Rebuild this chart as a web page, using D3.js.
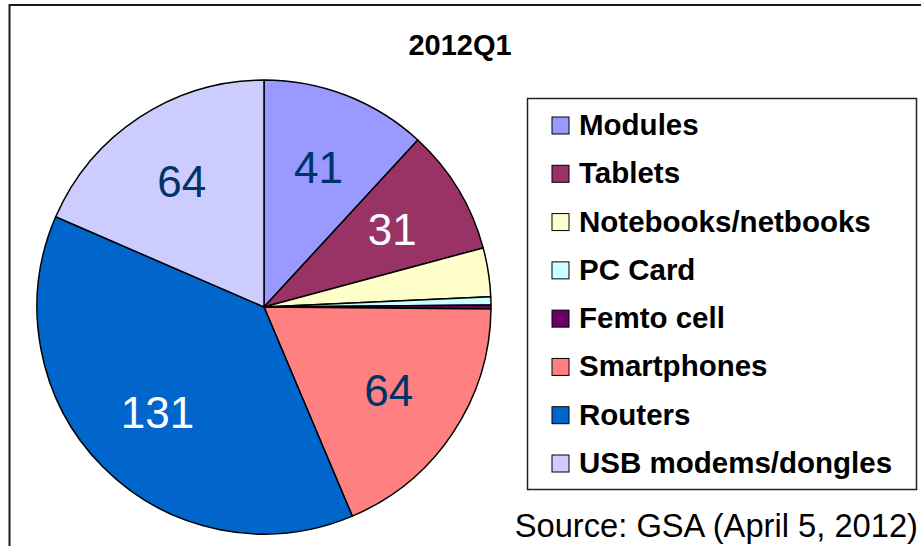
<!DOCTYPE html>
<html>
<head>
<meta charset="utf-8">
<script src="https://cdn.jsdelivr.net/npm/d3@7"></script>
<style>
  html, body { margin: 0; padding: 0; background: #fff; }
  svg { display: block; }
  text { font-family: "Liberation Sans", Arial, sans-serif; }
</style>
</head>
<body>
<svg id="chart" width="921" height="546"></svg>
<script>
const title = "2012Q1";
const source = "Source: GSA (April 5, 2012)";
const categories = ["Modules", "Tablets", "Notebooks/netbooks", "PC Card", "Femto cell", "Smartphones", "Routers", "USB modems/dongles"];
const values = [41, 31, 12, 2, 1, 64, 131, 64];
const colors = ["#9999FF", "#993366", "#FFFFCC", "#CCFFFF", "#660066", "#FF8080", "#0066CC", "#CCCCFF"];
const labelColors = ["#003366", "#FFFFFF", "#003366", "#003366", "#003366", "#003366", "#FFFFFF", "#003366"];

const W = 921, H = 546;
const svg = d3.select("#chart");

// outer frame (extends past right/bottom edges)
svg.append("path")
  .attr("d", `M9.5,${H + 5} L9.5,5 L${W + 5},5`)
  .attr("fill", "none").attr("stroke", "#1a1a1a").attr("stroke-width", 2);

// title
svg.append("text")
  .attr("x", 460).attr("y", 55)
  .attr("text-anchor", "middle")
  .attr("font-size", 29).attr("font-weight", "bold")
  .text(title);

// pie
const cx = 264, cy = 307, R = 227;
const data = categories.map((c, i) => ({ name: c, value: values[i], color: colors[i], lc: labelColors[i] }));
const pie = d3.pie().sort(null).value(d => d.value);
const arcs = pie(data);
const arc = d3.arc().innerRadius(0).outerRadius(R);
const labelArc = d3.arc().innerRadius(150).outerRadius(150);

const g = svg.append("g").attr("transform", `translate(${cx},${cy})`);
g.selectAll("path.slice").data(arcs).join("path")
  .attr("class", "slice")
  .attr("d", arc)
  .attr("fill", d => d.data.color)
  .attr("stroke", "#000").attr("stroke-width", 1.5).attr("stroke-linejoin", "round");

g.selectAll("text.lbl").data(arcs.filter(d => d.data.value >= 20)).join("text")
  .attr("class", "lbl")
  .attr("transform", d => `translate(${labelArc.centroid(d)})`)
  .attr("text-anchor", "middle")
  .attr("dominant-baseline", "central")
  .attr("font-size", 44)
  .attr("fill", d => d.data.lc)
  .text(d => d.data.value);

// legend
const lg = svg.append("g");
lg.append("rect")
  .attr("x", 527.5).attr("y", 98.5).attr("width", 389).attr("height", 391)
  .attr("fill", "#fff").attr("stroke", "#222").attr("stroke-width", 1.5);

const rowY = d3.scalePoint().domain(categories).range([135, 473]);
const items = lg.selectAll("g.item").data(data).join("g").attr("class", "item")
  .attr("transform", d => `translate(0,${rowY(d.name)})`);
items.append("rect")
  .attr("x", 552).attr("y", -18).attr("width", 17).attr("height", 17)
  .attr("fill", d => d.color).attr("stroke", "#000").attr("stroke-width", 1);
items.append("text")
  .attr("x", 579).attr("y", 0)
  .attr("font-size", 29.5).attr("font-weight", "bold")
  .text(d => d.name);

// source
svg.append("text")
  .attr("x", 918).attr("y", 537)
  .attr("text-anchor", "end")
  .attr("font-size", 32.7)
  .text(source);
</script>
</body>
</html>
